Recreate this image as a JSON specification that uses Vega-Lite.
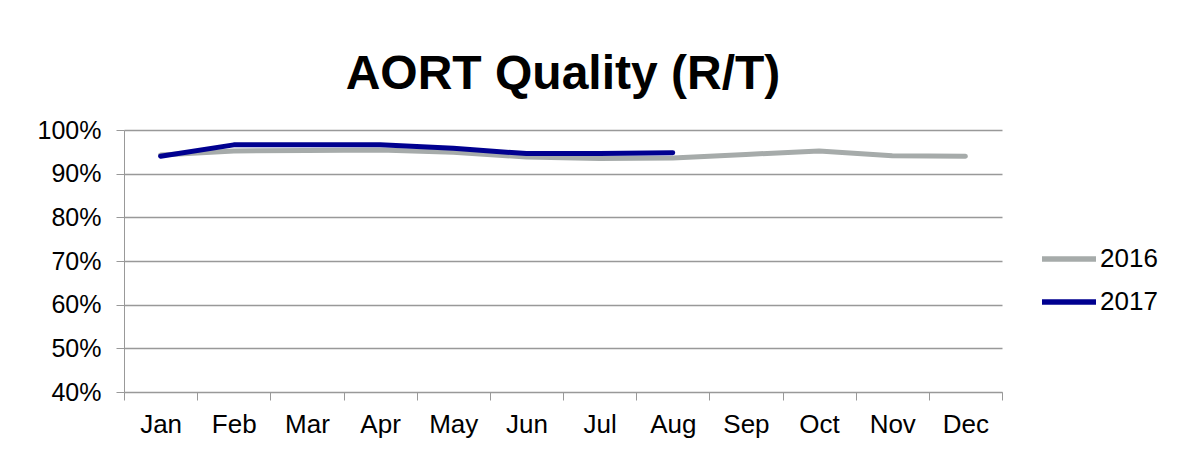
{
  "$schema": "https://vega.github.io/schema/vega-lite/v6.json",
  "autosize": {"type": "none"},
  "width": 878,
  "height": 262,
  "padding": {"left": 124, "top": 130, "right": 176, "bottom": 60},
  "background": "white",
  "title": {
    "text": "AORT Quality (R/T)",
    "font": "Liberation Sans",
    "fontSize": 48,
    "fontWeight": "bold",
    "color": "black",
    "anchor": "middle",
    "offset": 19
  },
  "data": {
    "values": [
      {"month": "Jan", "year": "2016", "value": 0.943},
      {"month": "Feb", "year": "2016", "value": 0.952},
      {"month": "Mar", "year": "2016", "value": 0.953},
      {"month": "Apr", "year": "2016", "value": 0.954},
      {"month": "May", "year": "2016", "value": 0.949},
      {"month": "Jun", "year": "2016", "value": 0.938},
      {"month": "Jul", "year": "2016", "value": 0.935},
      {"month": "Aug", "year": "2016", "value": 0.936},
      {"month": "Sep", "year": "2016", "value": 0.944},
      {"month": "Oct", "year": "2016", "value": 0.952},
      {"month": "Nov", "year": "2016", "value": 0.941},
      {"month": "Dec", "year": "2016", "value": 0.940},
      {"month": "Jan", "year": "2017", "value": 0.940},
      {"month": "Feb", "year": "2017", "value": 0.966},
      {"month": "Mar", "year": "2017", "value": 0.966},
      {"month": "Apr", "year": "2017", "value": 0.966},
      {"month": "May", "year": "2017", "value": 0.958},
      {"month": "Jun", "year": "2017", "value": 0.946},
      {"month": "Jul", "year": "2017", "value": 0.946},
      {"month": "Aug", "year": "2017", "value": 0.948}
    ]
  },
  "mark": {"type": "line", "strokeWidth": 5, "strokeCap": "round", "strokeJoin": "round"},
  "encoding": {
    "x": {
      "field": "month",
      "type": "ordinal",
      "sort": ["Jan","Feb","Mar","Apr","May","Jun","Jul","Aug","Sep","Oct","Nov","Dec"],
      "scale": {"type": "band", "paddingInner": 0, "paddingOuter": 0},
      "axis": {
        "title": null,
        "labelAngle": 0,
        "labelFont": "Liberation Sans",
        "labelFontSize": 26,
        "labelColor": "black",
        "labelPadding": 11,
        "tickBand": "extent",
        "tickSize": 8,
        "tickColor": "#999999",
        "domainColor": "#999999",
        "grid": false
      }
    },
    "y": {
      "field": "value",
      "type": "quantitative",
      "scale": {"domain": [0.4, 1.0], "nice": false, "zero": false},
      "axis": {
        "title": null,
        "format": ".0%",
        "values": [0.4, 0.5, 0.6, 0.7, 0.8, 0.9, 1.0],
        "labelFont": "Liberation Sans",
        "labelFontSize": 25,
        "labelColor": "black",
        "labelPadding": 15,
        "tickSize": 8,
        "tickColor": "#999999",
        "domainColor": "#999999",
        "grid": true,
        "gridColor": "#999999",
        "gridWidth": 1.5
      }
    },
    "color": {
      "field": "year",
      "type": "nominal",
      "scale": {"domain": ["2016", "2017"], "range": ["#A6ABAA", "#000090"]},
      "legend": {
        "title": null,
        "orient": "none",
        "legendX": 915,
        "legendY": 99,
        "symbolType": "stroke",
        "symbolSize": 2916,
        "symbolStrokeWidth": 5.5,
        "labelFont": "Liberation Sans",
        "labelFontSize": 26,
        "labelColor": "black",
        "labelOffset": 1,
        "rowPadding": -11,
        "padding": 0
      }
    }
  },
  "config": {
    "view": {"stroke": null}
  }
}
